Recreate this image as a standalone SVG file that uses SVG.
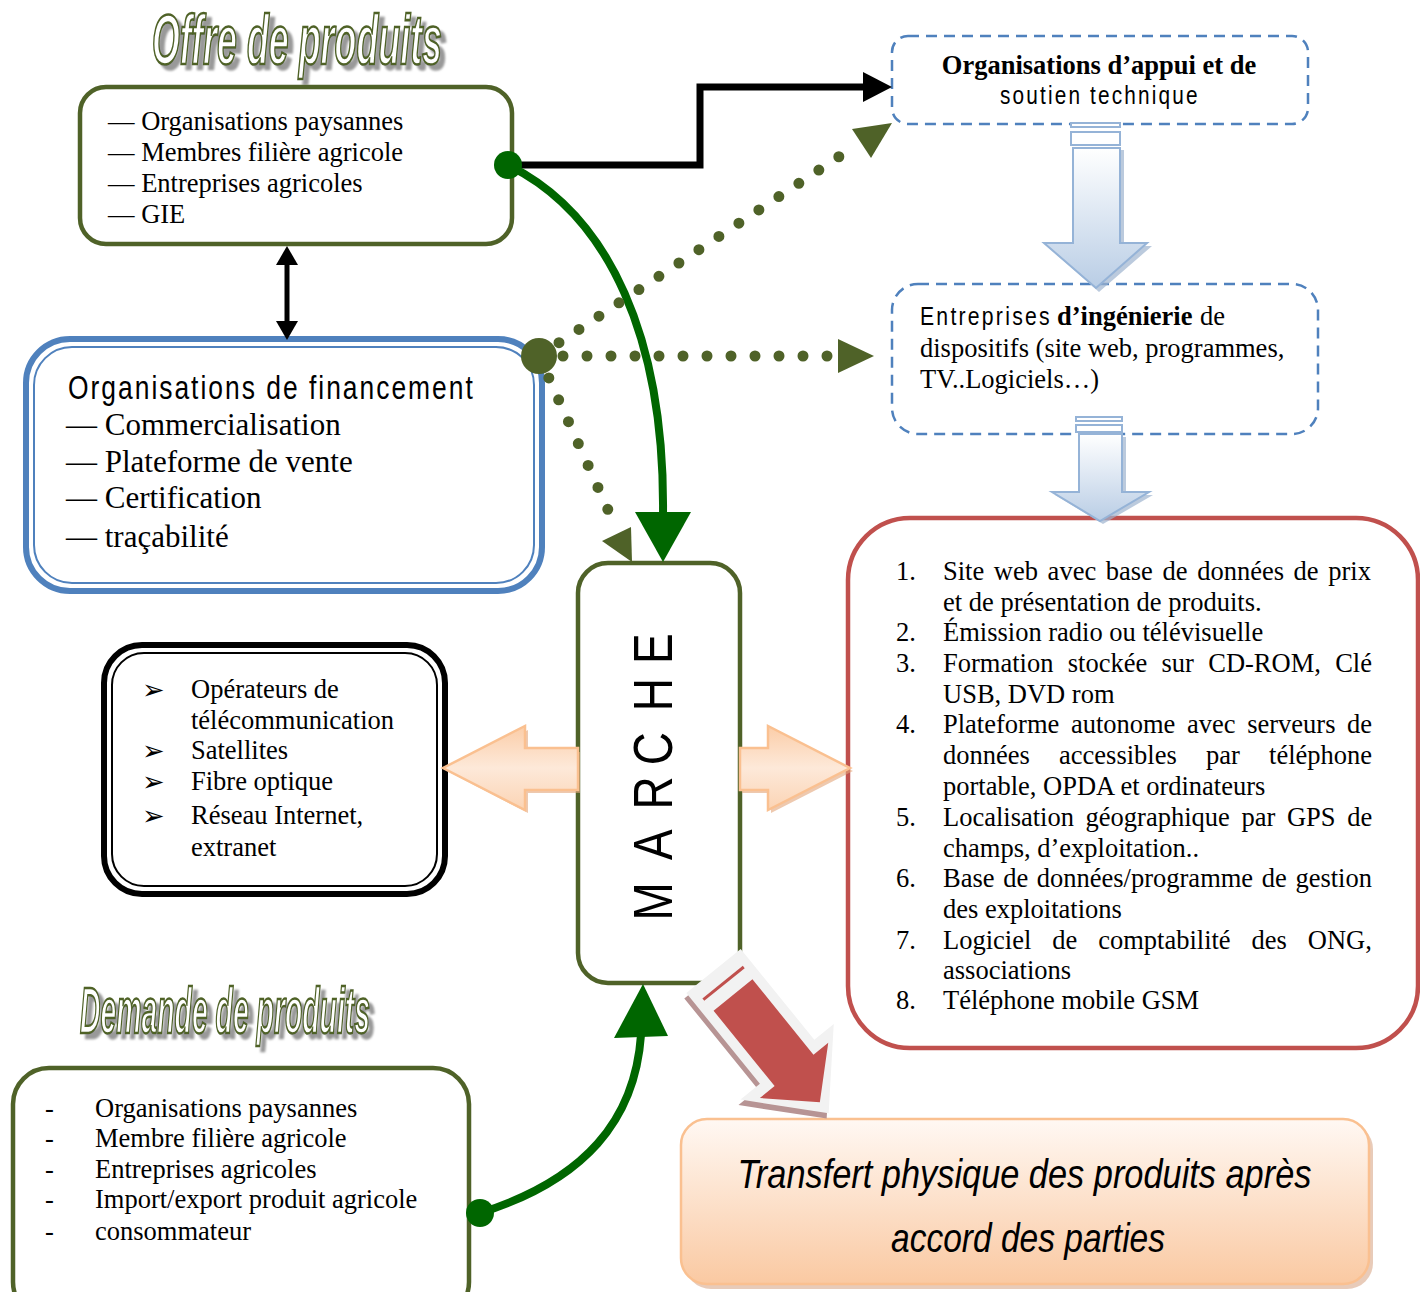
<svg xmlns="http://www.w3.org/2000/svg" width="1420" height="1292" viewBox="0 0 1420 1292">
  <defs>
    <style>
      .serif { font-family: "Liberation Serif", "Times New Roman", serif; fill: #000; }
      .sans { font-family: "Liberation Sans", Arial, sans-serif; fill: #000; }
      .title { font-family: "Liberation Sans", Arial, sans-serif; font-weight: bold; font-style: italic; fill: #fff; stroke: #4F6228; stroke-width: 2.6; }
      .olive-box { fill: #fff; stroke: #4F6228; stroke-width: 4.5; }
      .dash-box { fill: #fff; stroke: #4F81BD; stroke-width: 2.5; stroke-dasharray: 11 7; }
      .dots { fill: none; stroke: #4F6228; stroke-width: 11; stroke-linecap: round; stroke-dasharray: 0 24; }
      .olive-fill { fill: #4F6228; }
      .green-line { fill: none; stroke: #006600; stroke-width: 8; }
      .green-fill { fill: #006600; }
      .bullet { font-family: "DejaVu Sans", sans-serif; font-size: 27px; }
    </style>
    <filter id="titleShadow" x="-5%" y="-20%" width="115%" height="150%">
      <feOffset in="SourceAlpha" dx="5" dy="5" result="off"/>
      <feGaussianBlur in="off" stdDeviation="0.8" result="blur"/>
      <feFlood flood-color="#999999"/>
      <feComposite operator="in" in2="blur" result="shadow"/>
      <feMerge>
        <feMergeNode in="shadow"/>
        <feMergeNode in="SourceGraphic"/>
      </feMerge>
    </filter>
    <linearGradient id="blueArrow" x1="0" y1="0" x2="0" y2="1">
      <stop offset="0" stop-color="#ffffff"/>
      <stop offset="1" stop-color="#B9CDE5"/>
    </linearGradient>
    <linearGradient id="orangeArrow" x1="0" y1="0" x2="0" y2="1">
      <stop offset="0" stop-color="#FBCDA8"/>
      <stop offset="0.5" stop-color="#FDE9D9"/>
      <stop offset="1" stop-color="#FBD4B4"/>
    </linearGradient>
    <linearGradient id="peach" x1="0" y1="0" x2="0" y2="1">
      <stop offset="0" stop-color="#FFF8F3"/>
      <stop offset="1" stop-color="#FAC9A2"/>
    </linearGradient>
  </defs>

  <rect width="1420" height="1292" fill="#fff"/>

  <!-- headings -->
  <g id="title-offre" filter="url(#titleShadow)">
    <text class="title" x="152" y="64" font-size="70" textLength="290" lengthAdjust="spacingAndGlyphs">Offre de produits</text>
  </g>
  <g id="title-demande" filter="url(#titleShadow)">
    <text class="title" x="80" y="1033" font-size="64" textLength="290" lengthAdjust="spacingAndGlyphs">Demande de produits</text>
  </g>

  <!-- supply side -->
  <g id="node-offre">
    <rect class="olive-box" x="80" y="87" width="432" height="157" rx="26"/>
    <text class="serif" font-size="26.5">
      <tspan x="108" y="130">— Organisations paysannes</tspan>
      <tspan x="108" y="161">— Membres filière agricole</tspan>
      <tspan x="108" y="192">— Entreprises agricoles</tspan>
      <tspan x="108" y="223">— GIE</tspan>
    </text>
  </g>

  <!-- financing organisations (double blue frame) -->
  <g id="node-financement">
    <rect x="26" y="339" width="516" height="252" rx="44" fill="#fff" stroke="#4F81BD" stroke-width="6"/>
    <rect x="34" y="347" width="500" height="236" rx="38" fill="none" stroke="#4F81BD" stroke-width="2"/>
    <text class="sans" transform="translate(68,399) scale(0.8,1)" font-size="33" textLength="506" lengthAdjust="spacing">Organisations de financement</text>
    <text class="serif" font-size="31">
      <tspan x="66" y="435">— Commercialisation</tspan>
      <tspan x="66" y="472">— Plateforme de vente</tspan>
      <tspan x="66" y="508">— Certification</tspan>
      <tspan x="66" y="547">— traçabilité</tspan>
    </text>
  </g>

  <!-- telecom operators (double black frame) -->
  <g id="node-telecom">
    <rect x="104" y="645" width="341" height="249" rx="38" fill="#fff" stroke="#000" stroke-width="6"/>
    <rect x="112" y="653" width="325" height="233" rx="32" fill="none" stroke="#000" stroke-width="2"/>
    <text class="bullet">
      <tspan x="142" y="699">➢</tspan>
      <tspan x="142" y="760">➢</tspan>
      <tspan x="142" y="791">➢</tspan>
      <tspan x="142" y="825">➢</tspan>
    </text>
    <text class="serif" font-size="26.5">
      <tspan x="191" y="698">Opérateurs de</tspan>
      <tspan x="191" y="729">télécommunication</tspan>
      <tspan x="191" y="759">Satellites</tspan>
      <tspan x="191" y="790">Fibre optique</tspan>
      <tspan x="191" y="824">Réseau Internet,</tspan>
      <tspan x="191" y="856">extranet</tspan>
    </text>
  </g>

  <!-- market -->
  <g id="node-marche">
    <rect class="olive-box" x="578" y="563" width="162" height="420" rx="30"/>
    <g transform="translate(672,775) rotate(-90) scale(0.82,1)" class="sans" font-size="56" text-anchor="middle">
      <text x="-154">M</text>
      <text x="-85">A</text>
      <text x="-22">R</text>
      <text x="32">C</text>
      <text x="98">H</text>
      <text x="154">E</text>
    </g>
  </g>

  <!-- demand side -->
  <g id="node-demande">
    <rect class="olive-box" x="13" y="1068" width="456" height="250" rx="36"/>
    <text class="serif" font-size="26.5">
      <tspan x="45" y="1117">-</tspan><tspan x="95" y="1117">Organisations paysannes</tspan>
      <tspan x="45" y="1147">-</tspan><tspan x="95" y="1147">Membre filière agricole</tspan>
      <tspan x="45" y="1178">-</tspan><tspan x="95" y="1178">Entreprises agricoles</tspan>
      <tspan x="45" y="1208">-</tspan><tspan x="95" y="1208">Import/export produit agricole</tspan>
      <tspan x="45" y="1240">-</tspan><tspan x="95" y="1240">consommateur</tspan>
    </text>
  </g>

  <!-- technical support -->
  <g id="node-appui">
    <rect class="dash-box" x="892" y="36" width="416" height="88" rx="16"/>
    <text class="serif" x="1099" y="74" font-size="26.5" font-weight="bold" text-anchor="middle">Organisations d’appui et de</text>
    <text class="sans" transform="translate(1000,104) scale(0.8,1)" font-size="26" textLength="247" lengthAdjust="spacing">soutien technique</text>
  </g>

  <!-- engineering firms -->
  <g id="node-ingenierie">
    <rect class="dash-box" x="892" y="284" width="426" height="150" rx="26"/>
    <text class="sans" transform="translate(920,325) scale(0.8,1)" font-size="26.5" textLength="162" lengthAdjust="spacing">Entreprises</text>
    <text class="serif" font-size="26.5">
      <tspan x="1057" y="325" font-weight="bold">d’ingénierie</tspan>
      <tspan x="1200" y="325">de</tspan>
      <tspan x="920" y="357">dispositifs (site web, programmes,</tspan>
      <tspan x="920" y="388">TV..Logiciels…)</tspan>
    </text>
  </g>

  <!-- ICT tools list -->
  <g id="node-outils">
    <rect x="848" y="518" width="570" height="530" rx="62" fill="#fff" stroke="#C0504D" stroke-width="4.5"/>
    <text class="serif" font-size="26.5">
      <tspan x="896" y="580">1.</tspan>
      <tspan x="943" y="580" word-spacing="3">Site web avec base de données de prix</tspan>
      <tspan x="943" y="611">et de présentation de produits.</tspan>
      <tspan x="896" y="641">2.</tspan>
      <tspan x="943" y="641">Émission radio ou télévisuelle</tspan>
      <tspan x="896" y="672">3.</tspan>
      <tspan x="943" y="672" word-spacing="7.7">Formation stockée sur CD-ROM, Clé</tspan>
      <tspan x="943" y="703">USB, DVD rom</tspan>
      <tspan x="896" y="733">4.</tspan>
      <tspan x="943" y="733" word-spacing="5">Plateforme autonome avec serveurs de</tspan>
      <tspan x="943" y="764" word-spacing="22.6">données accessibles par téléphone</tspan>
      <tspan x="943" y="795">portable, OPDA et ordinateurs</tspan>
      <tspan x="896" y="826">5.</tspan>
      <tspan x="943" y="826" word-spacing="5">Localisation géographique par GPS de</tspan>
      <tspan x="943" y="857">champs, d’exploitation..</tspan>
      <tspan x="896" y="887">6.</tspan>
      <tspan x="943" y="887" word-spacing="2">Base de données/programme de gestion</tspan>
      <tspan x="943" y="918">des exploitations</tspan>
      <tspan x="896" y="949">7.</tspan>
      <tspan x="943" y="949" word-spacing="14.3">Logiciel de comptabilité des ONG,</tspan>
      <tspan x="943" y="979">associations</tspan>
      <tspan x="896" y="1009">8.</tspan>
      <tspan x="943" y="1009">Téléphone mobile GSM</tspan>
    </text>
  </g>

  <!-- physical transfer -->
  <g id="node-transfert">
    <rect x="685" y="1123" width="688" height="166" rx="26" fill="#D9A88A" opacity="0.6"/>
    <rect x="681" y="1119" width="688" height="165" rx="26" fill="url(#peach)" stroke="#FAC090" stroke-width="2.5"/>
    <text class="sans" font-style="italic" font-size="40" text-anchor="middle">
      <tspan x="1030" y="1188" textLength="574" lengthAdjust="spacingAndGlyphs">Transfert physique des produits après</tspan>
      <tspan x="1028" y="1252" textLength="274" lengthAdjust="spacingAndGlyphs">accord des parties</tspan>
    </text>
  </g>

  <!-- connectors -->
  <g id="connectors">
    <!-- offer <-> financing -->
    <line x1="287" y1="262" x2="287" y2="324" stroke="#000" stroke-width="5"/>
    <polygon points="276,265 287,246 298,265" fill="#000"/>
    <polygon points="276,321 287,340 298,321" fill="#000"/>

    <!-- offer -> technical support -->
    <polyline points="510,165 700,165 700,87 866,87" fill="none" stroke="#000" stroke-width="7"/>
    <polygon points="863,72 892,87 863,102" fill="#000"/>

    <!-- offer -> market -->
    <path class="green-line" d="M508,165 C610,215 665,340 663,515"/>
    <polygon class="green-fill" points="635,512 691,512 663,562"/>
    <circle class="green-fill" cx="508" cy="165" r="14"/>

    <!-- demand -> market -->
    <path class="green-line" d="M480,1213 C585,1180 635,1120 641,1035"/>
    <polygon class="green-fill" points="614,1038 668,1036 643,984"/>
    <circle class="green-fill" cx="480" cy="1213" r="14"/>

    <!-- financing dotted links -->
    <path class="dots" d="M539,356 L858,144"/>
    <polygon class="olive-fill" points="852,129 892,123 871,158"/>
    <path class="dots" d="M539,356 L830,356"/>
    <polygon class="olive-fill" points="838,339 874,356 838,373"/>
    <path class="dots" d="M539,356 L609,512"/>
    <polygon class="olive-fill" points="602,541 631,527 632,562"/>
    <circle class="olive-fill" cx="539" cy="356" r="18"/>

    <!-- technical support -> engineering -->
    <g>
      <polygon points="1076,150 1124,150 1124,246 1152,246 1099,292 1047,246 1076,246" fill="#9EB3CF" opacity="0.7"/>
      <rect x="1071" y="123" width="49" height="4" fill="#fff" stroke="#95B3D7" stroke-width="2"/>
      <rect x="1071" y="132" width="49" height="13" fill="#fff" stroke="#95B3D7" stroke-width="2"/>
      <polygon points="1073,148 1120,148 1120,243 1147,243 1096,288 1044,243 1073,243" fill="url(#blueArrow)" stroke="#95B3D7" stroke-width="2"/>
    </g>
    <!-- engineering -> ICT tools -->
    <g>
      <polygon points="1082,437 1126,437 1126,495 1153,495 1103,524 1055,495 1082,495" fill="#9EB3CF" opacity="0.7"/>
      <rect x="1076" y="417" width="46" height="4" fill="#fff" stroke="#95B3D7" stroke-width="2"/>
      <rect x="1076" y="425" width="46" height="7" fill="#fff" stroke="#95B3D7" stroke-width="2"/>
      <polygon points="1079,434 1122,434 1122,492 1149,492 1100,521 1052,492 1079,492" fill="url(#blueArrow)" stroke="#95B3D7" stroke-width="2"/>
    </g>

    <!-- market <-> telecom / ICT tools -->
    <g>
      <polygon points="580,752 528,752 528,730 447,771 528,813 528,793 580,793" fill="#E2A57A" opacity="0.6"/>
      <polygon points="578,748 525,748 525,726 443,768 525,810 525,790 578,790" fill="url(#orangeArrow)" stroke="#FAC090" stroke-width="2.5"/>
      <polygon points="742,752 771,752 771,730 853,771 771,813 771,793 742,793" fill="#E2A57A" opacity="0.6"/>
      <polygon points="740,748 768,748 768,726 850,768 768,810 768,790 740,790" fill="url(#orangeArrow)" stroke="#FAC090" stroke-width="2.5"/>
    </g>

    <!-- market -> physical transfer -->
    <g transform="translate(733,995) rotate(51)">
      <polygon transform="translate(3,5)" points="-31,-35 86,-35 86,-60 152,0 86,60 86,35 -31,35" fill="#B79494"/>
      <polygon points="-31,-35 86,-35 86,-60 152,0 86,60 86,35 -31,35" fill="#F2F2F2"/>
      <line x1="-15" y1="-26" x2="-15" y2="26" stroke="#C0504D" stroke-width="3"/>
      <polygon points="0,-25 97,-25 97,-44 138,0 97,44 97,25 0,25" fill="#C0504D"/>
    </g>
  </g>
</svg>
